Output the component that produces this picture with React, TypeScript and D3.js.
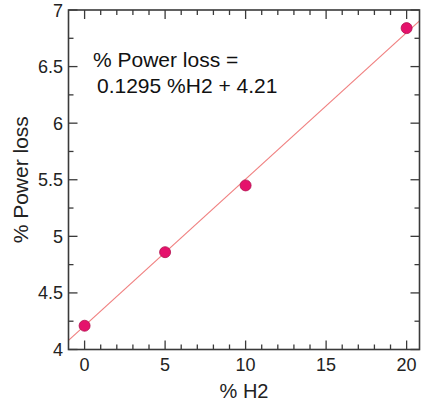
import React from "react";
import * as d3 from "d3";

const h2 = [0, 5, 10, 20];
const powerLoss = [4.21, 4.86, 5.45, 6.84];
const slope = 0.1295;
const intercept = 4.21;
const xTicks = [0, 5, 10, 15, 20];
const yTicks = [4, 4.5, 5, 5.5, 6, 6.5, 7];

export default function App() {
  const W = 422, H = 407;
  const L = 68.5, R = 419.5, T = 10, B = 349.5;
  const x = d3.scaleLinear().domain([-1, 20.8]).range([L, R]);
  const y = d3.scaleLinear().domain([4, 7]).range([B, T]);
  const xMinor = d3.range(0, 21, 1);
  const yMinor = d3.range(4, 7.001, 0.25);
  const axisCol = "#3a3a3a";
  const font = "Liberation Sans, Arial, sans-serif";
  const lx = [-1, 20.8];
  const line = d3.line<number>().x((d) => x(d)).y((d) => y(slope * d + intercept));
  return (
    <svg width={W} height={H} style={{ position: "absolute", left: 0, top: 0 }}>
      <rect width={W} height={H} fill="#fff" />
      <defs>
        <clipPath id="pc"><rect x={L} y={T} width={R - L} height={B - T} /></clipPath>
      </defs>
      <path d={line(lx) || ""} stroke="#f08080" strokeWidth={1.2} fill="none" clipPath="url(#pc)" />
      {xMinor.map((v) => {
        const major = v % 5 === 0;
        const len = major ? 9 : 5;
        return (
          <g key={"x" + v}>
            <line x1={x(v)} x2={x(v)} y1={B} y2={B - len} stroke={axisCol} strokeWidth={1.3} />
            <line x1={x(v)} x2={x(v)} y1={T} y2={T + len} stroke={axisCol} strokeWidth={1.3} />
          </g>
        );
      })}
      {yMinor.map((v) => {
        const major = Math.abs(v * 2 - Math.round(v * 2)) < 1e-6;
        const len = major ? 9 : 5;
        return (
          <g key={"y" + v}>
            <line x1={L} x2={L + len} y1={y(v)} y2={y(v)} stroke={axisCol} strokeWidth={1.3} />
            <line x1={R} x2={R - len} y1={y(v)} y2={y(v)} stroke={axisCol} strokeWidth={1.3} />
          </g>
        );
      })}
      <rect x={L} y={T} width={R - L} height={B - T} fill="none" stroke={axisCol} strokeWidth={1.6} />
      {xTicks.map((v) => (
        <text key={"xt" + v} x={x(v)} y={371} textAnchor="middle" fontFamily={font} fontSize={18} fill="#222">{v}</text>
      ))}
      {yTicks.map((v) => (
        <text key={"yt" + v} x={63} y={y(v) + 6.5} textAnchor="end" fontFamily={font} fontSize={18} fill="#222">{v}</text>
      ))}
      <text x={(L + R) / 2} y={398} textAnchor="middle" fontFamily={font} fontSize={20} fill="#222">% H2</text>
      <text transform={`translate(28,${(T + B) / 2}) rotate(-90)`} textAnchor="middle" fontFamily={font} fontSize={21} fill="#222">% Power loss</text>
      <text x={93} y={67} fontFamily={font} fontSize={21} fill="#111">% Power loss =</text>
      <text x={97} y={93} fontFamily={font} fontSize={21} fill="#111">0.1295 %H2 + 4.21</text>
      {h2.map((v, i) => (
        <circle key={"p" + i} cx={x(v)} cy={y(powerLoss[i])} r={5.5} fill="#e5126c" stroke="#b0104e" strokeWidth={0.8} />
      ))}
    </svg>
  );
}
